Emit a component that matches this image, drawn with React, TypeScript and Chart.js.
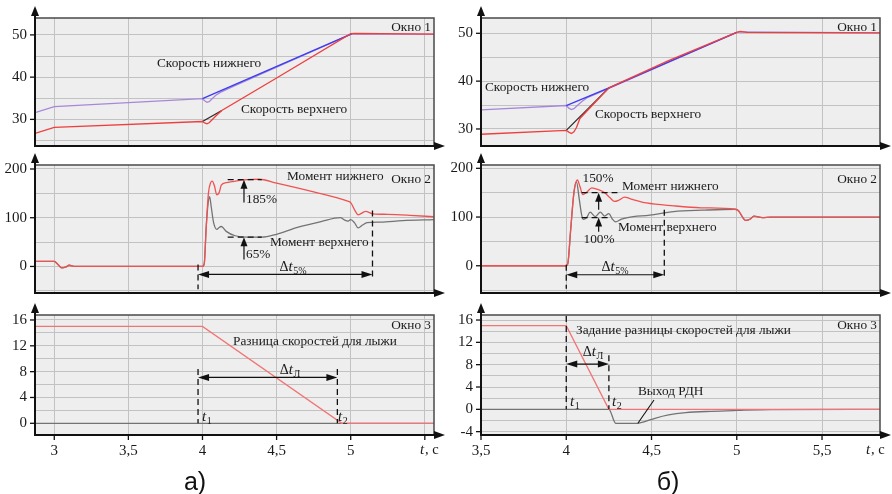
import React, { useEffect, useRef } from 'react';
import { Chart, registerables } from 'chart.js';

Chart.register(...registerables);

const SERIF = '"Liberation Serif", "Times New Roman", serif';

// ---------------- (а) Окно 1 : скорости ----------------
const aLowSpeedT = [2.87, 3.0, 4.0, 4.015, 4.03, 4.045, 4.065, 4.09, 4.12, 4.2, 5.01, 5.03, 5.56];
const aLowSpeedV = [31.6, 33.0, 34.9, 34.4, 34.05, 34.2, 34.9, 35.7, 36.4, 37.7, 50.3, 50.2, 50.2];
const aLowRefT = [4.0, 5.01];
const aLowRefV = [34.9, 50.3];
const aUpSpeedT = [2.87, 3.0, 4.0, 4.015, 4.03, 4.045, 4.065, 4.09, 4.13, 4.5, 5.0, 5.03, 5.56];
const aUpSpeedV = [26.7, 28.1, 29.5, 29.15, 28.95, 29.2, 29.9, 30.8, 32.1, 39.8, 50.3, 50.35, 50.2];
const aUpRefT = [4.0, 4.13];
const aUpRefV = [29.5, 32.1];

// ---------------- (а) Окно 2 : моменты ----------------
const aTqLowT = [2.87, 3.0, 3.025, 3.05, 3.08, 3.1, 3.14, 4.0, 4.012, 4.025, 4.04, 4.055, 4.066, 4.08, 4.097, 4.113, 4.127, 4.16, 4.2, 4.3, 4.38, 4.5, 4.75, 4.98, 5.0, 5.03, 5.05, 5.1, 5.15, 5.25, 5.4, 5.56];
const aTqLowV = [10.5, 10.5, 4, -3, -1, 2.5, 0, 0, 6, 80, 150, 172, 175, 166, 147, 152, 167, 172, 174, 178, 179, 171, 153, 134, 131, 114, 106, 113, 108, 107, 105, 102];
const aTqUpT = [2.87, 3.0, 3.025, 3.05, 3.08, 3.1, 3.14, 4.0, 4.012, 4.025, 4.038, 4.048, 4.06, 4.075, 4.097, 4.112, 4.127, 4.16, 4.22, 4.3, 4.4, 4.5, 4.64, 4.8, 4.93, 4.96, 4.98, 5.0, 5.025, 5.05, 5.08, 5.11, 5.2, 5.35, 5.56];
const aTqUpV = [10.5, 10.5, 4, -3, -1, 2.5, 0, 0, 6, 80, 130, 143, 120, 90, 76, 80, 82, 72, 63, 60, 60, 66, 80, 92, 100, 95, 93, 96, 90, 79, 85, 90, 91, 94, 96];

// ---------------- (а) Окно 3 : разница скоростей ----------------
const aDiffT = [2.87, 4.0, 4.94, 5.56];
const aDiffV = [15, 15, 0, 0];
const aRdnT = [2.87, 5.56];
const aRdnV = [0, 0];

// ---------------- (б) Окно 1 ----------------
const bLowSpeedT = [3.5, 4.0, 4.015, 4.03, 4.045, 4.065, 4.09, 4.12, 4.25, 5.0, 5.02, 5.84];
const bLowSpeedV = [34.0, 34.9, 34.35, 34.05, 34.25, 34.9, 35.7, 36.5, 38.5, 50.2, 50.3, 50.1];
const bLowRefT = [4.0, 4.25, 5.0];
const bLowRefV = [34.9, 38.6, 50.2];
const bUpSpeedT = [3.5, 4.0, 4.015, 4.03, 4.045, 4.06, 4.08, 4.25, 4.6, 5.0, 5.02, 5.06, 5.84];
const bUpSpeedV = [28.9, 29.7, 29.35, 29.05, 29.4, 30.3, 32.2, 38.6, 44.3, 50.2, 50.4, 50.2, 50.1];
const bUpRefT = [4.0, 4.25];
const bUpRefV = [29.7, 38.6];

// ---------------- (б) Окно 2 ----------------
const bTqLowT = [3.5, 4.0, 4.01, 4.025, 4.045, 4.065, 4.08, 4.097, 4.12, 4.15, 4.19, 4.225, 4.255, 4.283, 4.31, 4.342, 4.38, 4.47, 4.63, 4.79, 4.99, 5.01, 5.03, 5.05, 5.08, 5.1, 5.15, 5.2, 5.84];
const bTqLowV = [0, 0, 6, 70, 150, 176, 163, 146, 151, 160, 156, 150, 140, 132, 135, 141, 137, 129, 123, 119, 116, 113, 102, 93, 96, 102, 99, 100, 100];
const bTqUpT = [3.5, 4.0, 4.01, 4.025, 4.045, 4.06, 4.075, 4.09, 4.1, 4.12, 4.14, 4.17, 4.2, 4.225, 4.25, 4.27, 4.29, 4.32, 4.36, 4.49, 4.63, 4.8, 4.99, 5.01, 5.03, 5.05, 5.08, 5.1, 5.15, 5.2, 5.84];
const bTqUpV = [0, 0, 6, 70, 150, 172, 140, 105, 95, 99, 110, 101, 110, 102, 107, 96, 90, 95, 99, 104, 111, 114, 116, 113, 102, 93, 96, 102, 99, 100, 100];

// ---------------- (б) Окно 3 ----------------
const bDiffT = [3.5, 4.0, 4.25, 5.84];
const bDiffV = [15, 15, 0, 0];
const bRdnT = [3.5, 4.25, 4.29, 4.42, 4.46, 4.52, 4.6, 4.7, 4.85, 5.0, 5.2, 5.84];
const bRdnV = [0, 0, -2.5, -2.5, -2.2, -1.6, -1.0, -0.6, -0.35, -0.2, -0.05, 0];

// ---------------- axes ticks ----------------
const aXTicks = [3, 3.5, 4, 4.5, 5, 5.5];
const aXLabels = ['3', '3,5', '4', '4,5', '5', ''];
const bXTicks = [3.5, 4, 4.5, 5, 5.5];
const bXLabels = ['3,5', '4', '4,5', '5', '5,5'];
const speedYTicks = [25, 30, 35, 40, 45, 50];
const speedYLabels = ['', '30', '', '40', '', '50'];
const torqueYTicks = [-50, 0, 50, 100, 150, 200];
const torqueYLabels = ['', '0', '', '100', '', '200'];
const aDiffYTicks = [0, 2, 4, 6, 8, 10, 12, 14, 16];
const aDiffYLabels = ['0', '', '4', '', '8', '', '12', '', '16'];
const bDiffYTicks = [-4, -2, 0, 2, 4, 6, 8, 10, 12, 14, 16];
const bDiffYLabels = ['-4', '', '0', '', '4', '', '8', '', '12', '', '16'];

// colours
const C_RED = '#ee3f3f';
const C_RED_T = '#f05252';
const C_RED_LIGHT = '#f27575';
const C_GRAY = '#737373';
const C_PURPLE = '#a687da';
const C_BLUE = '#3c3cf2';
const C_BLACK = '#2a2a2a';

type Series = { t: number[]; v: number[]; color: string; smooth?: boolean; width?: number };
type G = {
  ctx: CanvasRenderingContext2D;
  X: (t: number) => number;
  Y: (v: number) => number;
  px: (x: number) => number;
  py: (y: number) => number;
};
type PanelCfg = {
  id: string;
  box: number[];
  area: number[];
  xMin: number; xMax: number; xTicks: number[]; xLabels: string[] | null;
  yMin: number; yMax: number; yTicks: number[]; yLabels: string[];
  series: Series[];
  draw: (g: G) => void;
};

const TXT = 13.3;

// ---------- drawing helpers ----------
function txt(g: G, s: string, x: number, y: number, align: CanvasTextAlign = 'left', size = TXT, style = '') {
  const c = g.ctx;
  c.save();
  c.font = `${style} ${size}px ${SERIF}`;
  c.fillStyle = '#1a1a1a';
  c.textAlign = align;
  c.textBaseline = 'middle';
  c.fillText(s, g.px(x), g.py(y));
  c.restore();
}
function deltaT(g: G, x: number, y: number, sub: string) {
  const c = g.ctx;
  c.save();
  c.fillStyle = '#1a1a1a';
  c.textBaseline = 'alphabetic';
  const f1 = `14px ${SERIF}`, fi = `italic 15px ${SERIF}`, fs = `10px ${SERIF}`;
  c.font = f1; const w1 = c.measureText('Δ').width;
  c.font = fi; const w2 = c.measureText('t').width + 0.5;
  c.font = fs; const w3 = c.measureText(sub).width;
  let lx = g.px(x) - (w1 + w2 + w3) / 2;
  const base = g.py(y) + 5;
  c.font = f1; c.fillText('Δ', lx, base); lx += w1;
  c.font = fi; c.fillText('t', lx, base); lx += w2;
  c.font = fs; c.fillText(sub, lx, base + 3);
  c.restore();
}
function tSub(g: G, x: number, y: number, sub: string) {
  const c = g.ctx;
  c.save();
  c.fillStyle = '#1a1a1a';
  c.textBaseline = 'alphabetic';
  c.font = `italic 15px ${SERIF}`;
  const w = c.measureText('t').width + 0.5;
  const base = g.py(y) + 5;
  c.fillText('t', g.px(x), base);
  c.font = `10px ${SERIF}`;
  c.fillText(sub, g.px(x) + w, base + 3);
  c.restore();
}
function seg(c: CanvasRenderingContext2D, x1: number, y1: number, x2: number, y2: number, w = 1.2, dash: number[] = []) {
  c.save();
  c.strokeStyle = '#111';
  c.lineWidth = w;
  c.setLineDash(dash);
  c.beginPath();
  c.moveTo(x1, y1);
  c.lineTo(x2, y2);
  c.stroke();
  c.restore();
}
function head(c: CanvasRenderingContext2D, x: number, y: number, ang: number, len = 9, half = 3.5) {
  const bx = x - Math.cos(ang) * len, by = y - Math.sin(ang) * len;
  const nx = -Math.sin(ang) * half, ny = Math.cos(ang) * half;
  c.save();
  c.fillStyle = '#111';
  c.beginPath();
  c.moveTo(x, y);
  c.lineTo(bx + nx, by + ny);
  c.lineTo(bx - nx, by - ny);
  c.closePath();
  c.fill();
  c.restore();
}
const DASH = [6, 4];
function dashV(g: G, t: number, v1: number, v2: number) {
  seg(g.ctx, g.X(t), g.Y(v1), g.X(t), g.Y(v2), 1.3, DASH);
}
function dashH(g: G, v: number, t1: number, t2: number) {
  seg(g.ctx, g.X(t1), g.Y(v), g.X(t2), g.Y(v), 1.3, DASH);
}
function arrowUp(g: G, t: number, vFrom: number, vTo: number) {
  const x = g.X(t);
  seg(g.ctx, x, g.Y(vFrom), x, g.Y(vTo) + 4, 1.2);
  head(g.ctx, x, g.Y(vTo), -Math.PI / 2, 9, 3.5);
}
function dblArrow(g: G, v: number, t1: number, t2: number) {
  const y = g.Y(v), x1 = g.X(t1), x2 = g.X(t2);
  seg(g.ctx, x1 + 4, y, x2 - 4, y, 1.2);
  head(g.ctx, x1, y, Math.PI, 11, 3.5);
  head(g.ctx, x2, y, 0, 11, 3.5);
}

// ---------- panels ----------
const L = { x0: 0, l: 35, r: 434 };
const R = { x0: 446, l: 481, r: 880 };
const X_AXIS_H = 30;

const panels: PanelCfg[] = [
  {
    id: 'a1', box: [L.x0, 0, 446, 150], area: [L.l, 18, L.r, 146],
    xMin: 2.87, xMax: 5.562, xTicks: aXTicks, xLabels: null,
    yMin: 23.7, yMax: 54.0, yTicks: speedYTicks, yLabels: speedYLabels,
    series: [
      { t: aLowSpeedT, v: aLowSpeedV, color: C_PURPLE },
      { t: aLowRefT, v: aLowRefV, color: C_BLUE },
      { t: aUpRefT, v: aUpRefV, color: C_BLACK },
      { t: aUpSpeedT, v: aUpSpeedV, color: C_RED },
    ],
    draw: (g) => {
      txt(g, 'Скорость нижнего', 157, 64);
      txt(g, 'Скорость верхнего', 241, 110);
      txt(g, 'Окно 1', 431, 28, 'right');
    },
  },
  {
    id: 'a2', box: [L.x0, 150, 446, 150], area: [L.l, 165, L.r, 293],
    xMin: 2.87, xMax: 5.562, xTicks: aXTicks, xLabels: null,
    yMin: -54.5, yMax: 208.2, yTicks: torqueYTicks, yLabels: torqueYLabels,
    series: [
      { t: aTqUpT, v: aTqUpV, color: C_GRAY, smooth: true },
      { t: aTqLowT, v: aTqLowV, color: C_RED_T, smooth: true },
    ],
    draw: (g) => {
      dashH(g, 178, 4.17, 4.40);
      dashH(g, 60, 4.17, 4.40);
      arrowUp(g, 4.28, 131, 178);
      arrowUp(g, 4.28, 14, 60);
      txt(g, '185%', 246, 200);
      txt(g, '65%', 246, 255);
      txt(g, 'Момент нижнего', 287, 177);
      txt(g, 'Момент верхнего', 270, 243);
      txt(g, 'Окно 2', 431, 180, 'right');
      dashV(g, 3.97, 4, -47);
      dashV(g, 5.147, 115, -27);
      dblArrow(g, -16.4, 3.97, 5.147);
      deltaT(g, 293, 266, '5%');
    },
  },
  {
    id: 'a3', box: [L.x0, 300, 446, 170], area: [L.l, 315, L.r, 435],
    xMin: 2.87, xMax: 5.562, xTicks: aXTicks, xLabels: aXLabels,
    yMin: -1.81, yMax: 16.77, yTicks: aDiffYTicks, yLabels: aDiffYLabels,
    series: [
      { t: aRdnT, v: aRdnV, color: C_GRAY },
      { t: aDiffT, v: aDiffV, color: C_RED_LIGHT },
    ],
    draw: (g) => {
      txt(g, 'Окно 3', 431, 326, 'right');
      txt(g, 'Разница скоростей для лыжи', 233, 342);
      dashV(g, 3.97, 8.4, 0);
      dashV(g, 4.91, 8.4, 0);
      dblArrow(g, 7.1, 3.97, 4.91);
      deltaT(g, 290, 369, 'Л');
      tSub(g, 202, 416, '1');
      tSub(g, 338, 416, '2');
      tSub(g, 420, 449, '');
      txt(g, ', c', 425, 450, 'left', 14.5);
    },
  },
  {
    id: 'b1', box: [R.x0, 0, 446, 150], area: [R.l, 18, R.r, 146],
    xMin: 3.5, xMax: 5.84, xTicks: bXTicks, xLabels: null,
    yMin: 26.44, yMax: 53.2, yTicks: speedYTicks, yLabels: speedYLabels,
    series: [
      { t: bLowSpeedT, v: bLowSpeedV, color: C_PURPLE },
      { t: bLowRefT, v: bLowRefV, color: C_BLUE },
      { t: bUpRefT, v: bUpRefV, color: C_BLACK },
      { t: bUpSpeedT, v: bUpSpeedV, color: C_RED },
    ],
    draw: (g) => {
      txt(g, 'Скорость нижнего', 485, 88);
      txt(g, 'Скорость верхнего', 595, 115);
      txt(g, 'Окно 1', 877, 28, 'right');
    },
  },
  {
    id: 'b2', box: [R.x0, 150, 446, 150], area: [R.l, 165, R.r, 293],
    xMin: 3.5, xMax: 5.84, xTicks: bXTicks, xLabels: null,
    yMin: -55.9, yMax: 206.8, yTicks: torqueYTicks, yLabels: torqueYLabels,
    series: [
      { t: bTqUpT, v: bTqUpV, color: C_GRAY, smooth: true },
      { t: bTqLowT, v: bTqLowV, color: C_RED_T, smooth: true },
    ],
    draw: (g) => {
      dashH(g, 150, 4.09, 4.30);
      dashH(g, 99, 4.09, 4.265);
      arrowUp(g, 4.19, 115, 150);
      arrowUp(g, 4.19, 70, 99);
      txt(g, '150%', 598, 179, 'center');
      txt(g, '100%', 599, 240, 'center');
      txt(g, 'Момент нижнего', 622, 187);
      txt(g, 'Момент верхнего', 618, 228);
      txt(g, 'Окно 2', 877, 180, 'right');
      dashV(g, 4.0, 2, -47);
      dashV(g, 4.575, 115, -25);
      dblArrow(g, -18.4, 4.0, 4.575);
      deltaT(g, 615, 266, '5%');
    },
  },
  {
    id: 'b3', box: [R.x0, 300, 446, 170], area: [R.l, 315, R.r, 435],
    xMin: 3.5, xMax: 5.84, xTicks: bXTicks, xLabels: bXLabels,
    yMin: -4.6, yMax: 16.9, yTicks: bDiffYTicks, yLabels: bDiffYLabels,
    series: [
      { t: bRdnT, v: bRdnV, color: C_GRAY, smooth: true },
      { t: bDiffT, v: bDiffV, color: C_RED_LIGHT },
    ],
    draw: (g) => {
      txt(g, 'Окно 3', 877, 326, 'right');
      txt(g, 'Задание разницы скоростей для лыжи', 576, 331);
      dashV(g, 4.0, 16.7, 0);
      dashV(g, 4.25, 9.7, 0);
      dblArrow(g, 8.1, 4.0, 4.25);
      deltaT(g, 593, 351, 'Л');
      tSub(g, 570, 401, '1');
      tSub(g, 612, 401, '2');
      txt(g, 'Выход РДН', 638, 392);
      seg(g.ctx, g.px(654), g.py(400), g.X(4.42), g.Y(-2.5), 1.1);
      tSub(g, 866, 449, '');
      txt(g, ', c', 871, 450, 'left', 14.5);
    },
  },
];

function PanelChart({ cfg }: { cfg: PanelCfg }) {
  const ref = useRef<HTMLCanvasElement | null>(null);
  useEffect(() => {
    const canvas = ref.current;
    if (!canvas) return;
    const [bx, by, bw, bh] = cfg.box;
    const [al, at, ar, ab] = cfg.area;
    const xh = cfg.xLabels ? X_AXIS_H : 0;
    const font = { family: SERIF, size: 15 };
    const plugin = {
      id: 'frame_' + cfg.id,
      beforeDraw(chart: any) {
        const { ctx, chartArea: a } = chart;
        ctx.save();
        ctx.fillStyle = '#eeeeee';
        ctx.fillRect(a.left, a.top, a.right - a.left, a.bottom - a.top);
        ctx.restore();
      },
      afterDraw(chart: any) {
        const { ctx, chartArea: a } = chart;
        const xs = chart.scales.x, ys = chart.scales.y;
        ctx.save();
        ctx.strokeStyle = '#4a4a4a';
        ctx.lineWidth = 1.5;
        ctx.beginPath();
        ctx.moveTo(a.left, a.top);
        ctx.lineTo(a.right, a.top);
        ctx.lineTo(a.right, a.bottom);
        ctx.stroke();
        ctx.restore();
        const colRight = bw - 1;
        seg(ctx, a.left, a.bottom + 1, a.left, a.top - 6, 2);
        head(ctx, a.left, a.top - 12, -Math.PI / 2, 10, 4);
        seg(ctx, a.left - 1, a.bottom, colRight - 6, a.bottom, 2);
        head(ctx, colRight, a.bottom, 0, 11, 4);
        cfg.yTicks.forEach((v, i) => {
          if (cfg.yLabels[i]) {
            const y = ys.getPixelForValue(v);
            seg(ctx, a.left - 5, y, a.left, y, 1.3);
          }
        });
        if (cfg.xLabels) {
          cfg.xTicks.forEach((v) => {
            const x = xs.getPixelForValue(v);
            seg(ctx, x, a.bottom, x, a.bottom + 5, 1.3);
          });
        }
        const g: G = {
          ctx,
          X: (t) => xs.getPixelForValue(t),
          Y: (v) => ys.getPixelForValue(v),
          px: (x) => x - bx,
          py: (y) => y - by,
        };
        cfg.draw(g);
      },
    };
    const n = cfg.series.length;
    const chart = new Chart(canvas, {
      type: 'line',
      data: {
        datasets: cfg.series.map((s, i) => ({
          data: s.t.map((t, k) => ({ x: t, y: s.v[k] })),
          borderColor: s.color,
          borderWidth: s.width ?? 1.3,
          pointRadius: 0,
          pointHoverRadius: 0,
          tension: 0,
          cubicInterpolationMode: s.smooth ? 'monotone' : 'default',
          fill: false,
          order: n - i,
        })),
      },
      options: {
        responsive: false,
        animation: false,
        events: [],
        layout: {
          autoPadding: false,
          padding: { left: 0, top: at - by, right: bx + bw - ar, bottom: by + bh - ab - xh },
        },
        plugins: { legend: { display: false }, tooltip: { enabled: false } },
        scales: {
          x: {
            type: 'linear',
            min: cfg.xMin,
            max: cfg.xMax,
            afterBuildTicks: (s: any) => { s.ticks = cfg.xTicks.map((v) => ({ value: v })); },
            afterFit: (s: any) => { s.height = xh; s.paddingLeft = 0; s.paddingRight = 0; },
            grid: { color: '#c2c2c2', lineWidth: 1, drawTicks: false },
            border: { display: false },
            ticks: {
              display: !!cfg.xLabels,
              autoSkip: false,
              maxRotation: 0,
              minRotation: 0,
              padding: 7,
              font,
              color: '#1a1a1a',
              callback: (_v: any, i: number) => (cfg.xLabels ? cfg.xLabels[i] : ''),
            },
          },
          y: {
            type: 'linear',
            min: cfg.yMin,
            max: cfg.yMax,
            afterBuildTicks: (s: any) => { s.ticks = cfg.yTicks.map((v) => ({ value: v })); },
            afterFit: (s: any) => { s.width = al - bx; s.paddingTop = 0; s.paddingBottom = 0; },
            grid: { color: '#c2c2c2', lineWidth: 1, drawTicks: false },
            border: { display: false },
            ticks: {
              autoSkip: false,
              padding: 8,
              font,
              color: '#1a1a1a',
              callback: (_v: any, i: number) => cfg.yLabels[i],
            },
          },
        },
      } as any,
      plugins: [plugin],
    });
    return () => chart.destroy();
  }, [cfg]);
  const [bx, by, bw, bh] = cfg.box;
  return (
    <canvas
      ref={ref}
      width={bw}
      height={bh}
      style={{ position: 'absolute', left: bx, top: by, width: bw, height: bh }}
    />
  );
}

export default function App() {
  useEffect(() => {
    document.body.style.margin = '0';
  }, []);
  const capStyle: React.CSSProperties = {
    position: 'absolute',
    top: 465,
    width: 60,
    height: 32,
    lineHeight: '32px',
    textAlign: 'center',
    fontFamily: '"Liberation Sans", Arial, sans-serif',
    fontSize: 25,
    color: '#111',
  };
  return (
    <div style={{ position: 'fixed', left: 0, top: 0, width: 892, height: 494, background: '#fff', overflow: 'hidden' }}>
      {panels.map((p) => (
        <PanelChart key={p.id} cfg={p} />
      ))}
      <div style={{ ...capStyle, left: 195 - 30 }}>а)</div>
      <div style={{ ...capStyle, left: 668 - 30 }}>б)</div>
    </div>
  );
}
